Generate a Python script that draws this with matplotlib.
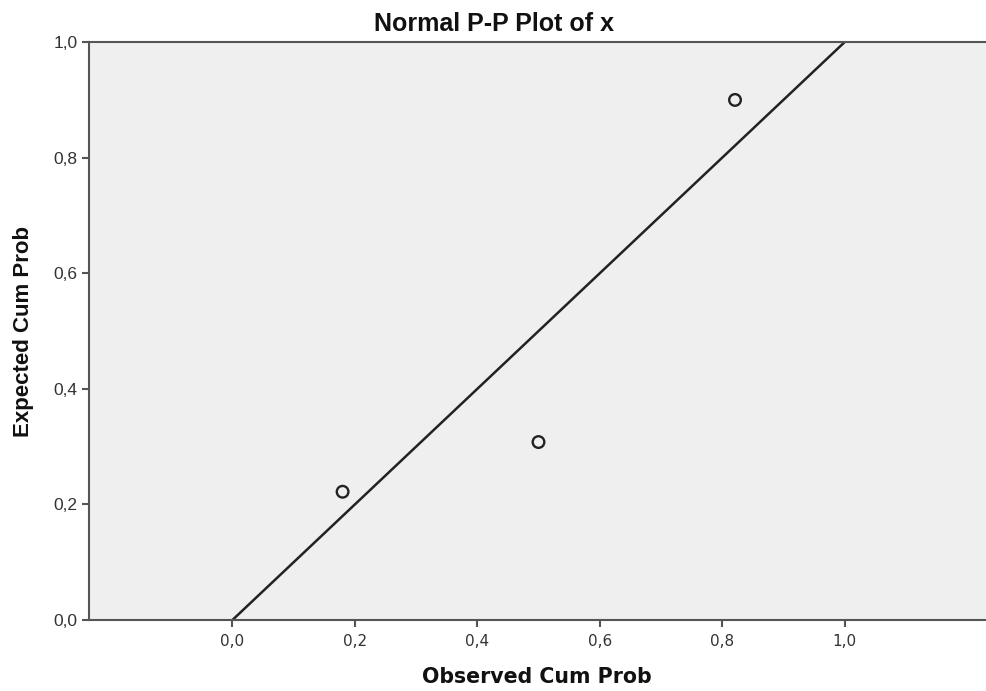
import numpy as np
import matplotlib.pyplot as plt

# DATOS
observed = [0.180, 0.500, 0.821]
expected = [0.222, 0.308, 0.900]
ref_line = [0.0, 1.0]
x_ticks = [0.0, 0.2, 0.4, 0.6, 0.8, 1.0]
y_ticks = [0.0, 0.2, 0.4, 0.6, 0.8, 1.0]
x_labels = ['0,0', '0,2', '0,4', '0,6', '0,8', '1,0']
y_labels = ['0,0', '0,2', '0,4', '0,6', '0,8', '1,0']

plt.rcParams['font.family'] = ['Liberation Sans', 'DejaVu Sans']

fig = plt.figure(figsize=(9.86, 6.91), dpi=100)
ax = fig.add_axes([0.0898, 0.1027, 0.9102, 0.8363])
ax.set_facecolor('#efefef')

ax.plot(ref_line, ref_line, color='#222222', lw=1.8)
ax.scatter(observed, expected, s=70, facecolors='none', edgecolors='#222222', linewidths=1.7, zorder=3)

ax.set_xlim(-0.235, 1.231)
ax.set_ylim(0, 1)
ax.set_xticks(x_ticks)
ax.set_xticklabels(x_labels, family='DejaVu Sans', fontsize=11)
ax.set_yticks(y_ticks)
ax.set_yticklabels(y_labels, fontsize=12.5)
ax.tick_params(direction='out', length=5, width=1.5, color='#555555', labelcolor='#333333')
ax.tick_params(axis='x', pad=5)
ax.tick_params(axis='y', pad=3)

for s in ['left', 'bottom', 'top']:
    ax.spines[s].set_color('#555555')
    ax.spines[s].set_linewidth(1.5)
ax.spines['right'].set_visible(False)

# TITULO centrado en la figura
fig.text(494 / 986, 1 - 24 / 691, 'Normal P-P Plot of x', fontsize=18,
         fontweight='bold', ha='center', va='center', color='#111111')

ax.set_xlabel('Observed Cum Prob', family='DejaVu Sans', fontsize=14.8, fontweight='bold', color='#111111')
ax.set_ylabel('Expected Cum Prob', fontsize=16, fontweight='bold', color='#111111')
ax.xaxis.set_label_coords(0.5, -0.081)
ax.yaxis.set_label_coords(-0.0607, 0.5)

plt.savefig('out.png', dpi=100)
